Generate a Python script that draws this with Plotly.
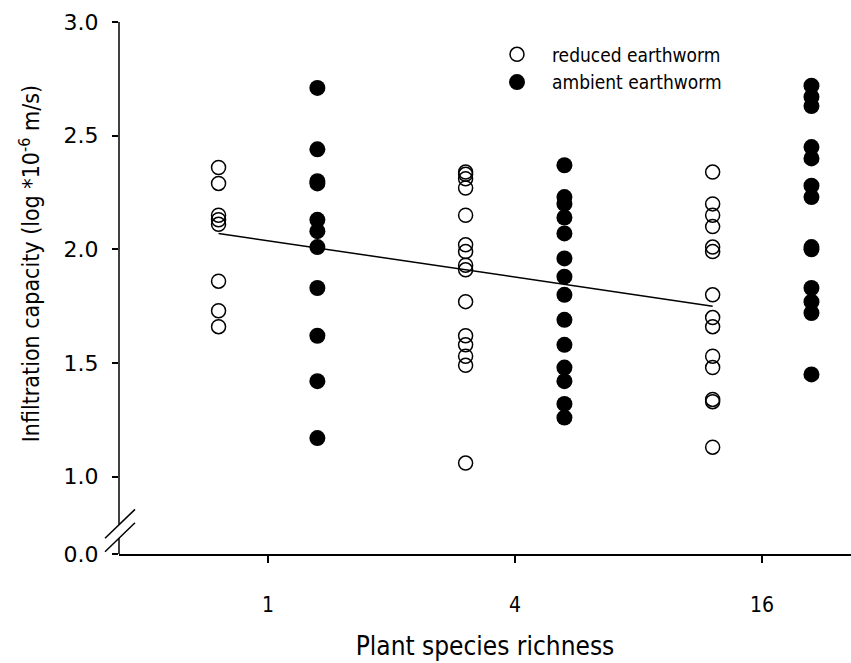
import plotly.graph_objects as go

# ---------------- data ----------------
richness = ["1", "4", "16"]
cat_index = [0, 1, 2]
offset = 0.2

reduced_1 = [2.36, 2.29, 2.15, 2.13, 2.11, 1.86, 1.73, 1.66]
reduced_4 = [2.34, 2.33, 2.31, 2.27, 2.15, 2.02, 1.99, 1.93, 1.91, 1.77, 1.62, 1.58, 1.53, 1.49, 1.06]
reduced_16 = [2.34, 2.20, 2.15, 2.10, 2.01, 1.99, 1.80, 1.70, 1.66, 1.53, 1.48, 1.34, 1.33, 1.13]

ambient_1 = [2.71, 2.44, 2.30, 2.29, 2.13, 2.08, 2.01, 1.83, 1.62, 1.42, 1.17]
ambient_4 = [2.37, 2.23, 2.20, 2.14, 2.07, 1.96, 1.88, 1.80, 1.69, 1.58, 1.48, 1.42, 1.32, 1.26]
ambient_16 = [2.72, 2.67, 2.63, 2.45, 2.40, 2.28, 2.23, 2.01, 2.00, 1.83, 1.77, 1.72, 1.45]

fit_cat = [0, 2]          # regression line from richness 1 to 16 (reduced earthworm)
fit_y = [2.07, 1.75]

y_tick_values = [1.0, 1.5, 2.0, 2.5, 3.0]
y_tick_text = ["1.0", "1.5", "2.0", "2.5", "3.0"]
break_zero_pos = 0.66     # where the "0.0" label sits below the axis break

# --------------- build traces ---------------
def group_xy(groups, shift):
    xs, ys = [], []
    for ci, vals in zip(cat_index, groups):
        xs += [ci + shift] * len(vals)
        ys += vals
    return xs, ys

rx, ry = group_xy([reduced_1, reduced_4, reduced_16], -offset)
ax, ay = group_xy([ambient_1, ambient_4, ambient_16], offset)

fig = go.Figure()
fig.add_trace(go.Scatter(
    x=[c - offset for c in fit_cat], y=fit_y, mode="lines",
    line=dict(color="black", width=1.5), showlegend=False, hoverinfo="skip"))
fig.add_trace(go.Scatter(
    x=rx, y=ry, mode="markers", name="reduced earthworm",
    marker=dict(symbol="circle-open", size=14, color="black", line=dict(width=1.5, color="black")),
    cliponaxis=False))
fig.add_trace(go.Scatter(
    x=ax, y=ay, mode="markers", name="ambient earthworm",
    marker=dict(symbol="circle", size=16, color="black"),
    cliponaxis=False))

# --------------- layout ---------------
# body margin is removed in the page; screen plot box: left 119, right 851, top 21.5, bottom 554
W, H = 851, 663
SL, SR, ST, SB = 119, 851, 21.5, 554
L = SL
T = ST
B = H - SB
R = W - SR
pw = SR - SL
ph = SB - ST

def px_x(p):
    return (p - SL) / pw

def px_y(p):
    return (SB - p) / ph

COND = "DejaVu Sans Condensed, DejaVu Sans"

fig.update_layout(
    template="none",
    width=W, height=H,
    margin=dict(l=L, r=R, t=T, b=B, autoexpand=False),
    paper_bgcolor="white", plot_bgcolor="white",
    font=dict(family=COND, color="black"),
    xaxis=dict(
        automargin=False,
        range=[-0.603, 2.36], tickvals=cat_index, ticktext=richness,
        showgrid=False, zeroline=False, showline=True, linecolor="black", linewidth=1.5,
        ticks="outside", ticklen=7, tickwidth=1.5, tickcolor="black",
        tickfont=dict(size=21, family=COND),
        ticklabelstandoff=24,
        title=dict(text="Plant species richness", font=dict(size=26, family=COND),
                   standoff=21),
    ),
    yaxis=dict(
        automargin=False,
        range=[break_zero_pos, 3.0],
        tickvals=[break_zero_pos] + y_tick_values, ticktext=["0.0"] + y_tick_text,
        showgrid=False, zeroline=False, showline=False,
        ticks="outside", ticklen=6, tickwidth=1.5, tickcolor="black",
        tickfont=dict(size=22, family="DejaVu Sans"),
        ticklabelstandoff=9,
    ),
    legend=dict(
        x=px_x(482), y=px_y(35), xanchor="left", yanchor="top",
        bgcolor="rgba(0,0,0,0)", font=dict(size=19, family=COND),
        itemwidth=60,
    ),
    showlegend=True,
)

# y axis title as annotation
fig.add_annotation(
    x=px_x(30), y=px_y(264), xref="paper", yref="paper",
    text="Infiltration capacity (log *10<sup>-6</sup> m/s)", textangle=-90,
    showarrow=False, font=dict(size=23, family=COND),
    xanchor="center", yanchor="middle")

# y spine with break (two segments) and break slashes
gap_top = px_y(524.8)
gap_bot = px_y(538.2)
fig.add_shape(type="line", xref="paper", yref="paper", x0=0, x1=0, y0=gap_top, y1=1,
              line=dict(color="black", width=1.5))
fig.add_shape(type="line", xref="paper", yref="paper", x0=0, x1=0, y0=0, y1=gap_bot,
              line=dict(color="black", width=1.5))
for (y0p, y1p) in [(538.3, 509.3), (551.7, 522.7)]:
    fig.add_shape(type="line", xref="paper", yref="paper",
                  x0=px_x(105), x1=px_x(135), y0=px_y(y0p), y1=px_y(y1p),
                  line=dict(color="black", width=1.5))

fig.write_html(
    "out.html",
    config={"displayModeBar": False},
    post_script="document.body.style.margin='0';document.body.style.overflow='hidden';",
)
